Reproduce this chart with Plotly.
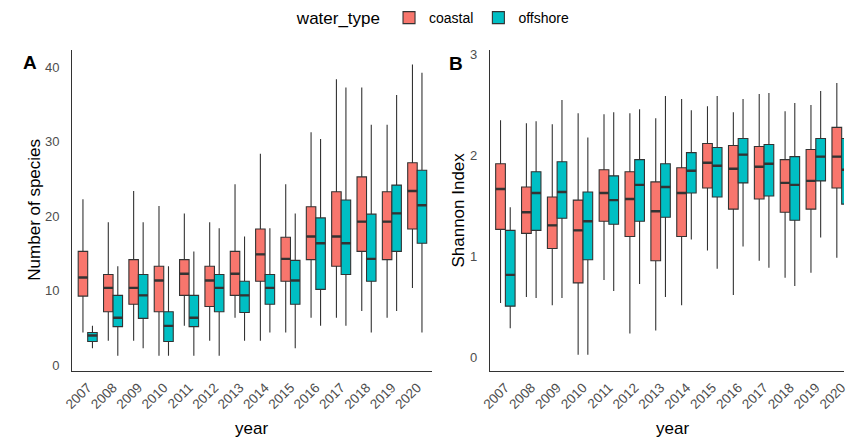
import plotly.graph_objects as go

years = [str(y) for y in range(2007, 2021)]
series = ["coastal", "offshore"]
fills = {"coastal": "#F8766D", "offshore": "#00BFC4"}

# Panel A: number of species per sample (box statistics)
species_low = {
    "coastal": [4.4, 3.3, 3.3, 1.3, 5.3, 3.3, 6.4, 3.3, 4.4, 6.4, 6.4, 7.3, 6.4, 10.4],
    "offshore": [2.3, 1.3, 2.3, 1.3, 1.3, 1.3, 3.3, 4.4, 2.3, 5.3, 5.3, 4.4, 7.3, 4.4],
}
species_q1 = {
    "coastal": [9.3, 7.2, 8.2, 7.2, 9.4, 7.9, 9.4, 11.3, 11.3, 14.2, 13.3, 15.3, 14.2, 18.3],
    "offshore": [3.2, 5.2, 6.3, 3.2, 5.2, 7.2, 7.1, 8.2, 8.2, 10.2, 12.2, 11.3, 15.3, 16.4],
}
species_med = {
    "coastal": [11.8, 10.4, 10.4, 11.4, 12.3, 11.4, 12.3, 14.9, 14.3, 17.3, 17.3, 19.3, 19.3, 23.4],
    "offshore": [4.0, 6.4, 9.4, 5.3, 6.4, 10.4, 9.4, 10.4, 11.4, 16.4, 16.4, 14.3, 20.4, 21.5],
}
species_q3 = {
    "coastal": [15.3, 12.2, 14.2, 13.3, 14.2, 13.3, 15.3, 18.3, 17.2, 21.3, 23.3, 25.3, 23.3, 27.2],
    "offshore": [4.4, 9.4, 12.2, 7.2, 9.4, 12.2, 11.3, 12.2, 14.1, 19.8, 22.2, 20.3, 24.2, 26.2],
}
species_high = {
    "coastal": [22.3, 19.2, 23.4, 21.4, 20.4, 19.2, 24.3, 28.4, 24.3, 31.3, 38.4, 37.3, 32.3, 40.4],
    "offshore": [5.3, 13.3, 19.2, 13.3, 15.3, 18.4, 17.3, 18.4, 20.4, 30.4, 37.3, 32.3, 36.3, 39.3],
}

# Panel B: Shannon diversity index (box statistics)
shannon_low = {
    "coastal": [0.54, 0.60, 0.52, 0.03, 0.77, 0.24, 0.27, 0.52, 1.06, 0.62, 0.96, 0.79, 0.84, 0.99],
    "offshore": [0.29, 0.59, 0.59, 0.03, 0.66, 0.73, 0.60, 1.17, 0.88, 1.10, 0.89, 0.71, 1.19, 1.00],
}
shannon_q1 = {
    "coastal": [1.27, 1.23, 1.08, 0.74, 1.35, 1.20, 0.96, 1.20, 1.68, 1.47, 1.57, 1.44, 1.47, 1.68],
    "offshore": [0.51, 1.26, 1.38, 0.97, 1.32, 1.35, 1.39, 1.63, 1.59, 1.73, 1.60, 1.36, 1.75, 1.52],
}
shannon_med = {
    "coastal": [1.67, 1.44, 1.31, 1.26, 1.63, 1.57, 1.45, 1.63, 1.93, 1.87, 1.89, 1.73, 1.75, 1.99],
    "offshore": [0.82, 1.63, 1.64, 1.35, 1.56, 1.71, 1.69, 1.85, 1.90, 2.01, 1.92, 1.71, 1.99, 1.86],
}
shannon_q3 = {
    "coastal": [1.92, 1.69, 1.59, 1.56, 1.86, 1.84, 1.74, 1.88, 2.12, 2.10, 2.09, 1.96, 2.06, 2.28],
    "offshore": [1.26, 1.84, 1.94, 1.64, 1.80, 1.96, 1.92, 2.03, 2.08, 2.17, 2.11, 1.99, 2.17, 2.17],
}
shannon_high = {
    "coastal": [2.35, 2.32, 2.31, 2.42, 2.41, 2.42, 2.37, 2.56, 2.49, 2.43, 2.61, 2.44, 2.50, 2.72],
    "offshore": [1.49, 2.34, 2.55, 2.18, 2.43, 2.46, 2.59, 2.45, 2.59, 2.56, 2.62, 2.52, 2.64, 2.62],
}

FONT = "Liberation Sans, Arial, sans-serif"
EDGE = "#333333"
DODGE = 0.75
BOX_W = DODGE / len(series)

fig = go.Figure()


def add_panel(xa, ya, low, q1, med, q3, high, legend):
    for k, s in enumerate(series):
        offset = (k - (len(series) - 1) / 2) * BOX_W
        pos = [i + offset for i in range(len(years))]
        fig.add_trace(go.Box(
            x=pos, q1=q1[s], median=med[s], q3=q3[s],
            lowerfence=low[s], upperfence=high[s],
            orientation="v", width=BOX_W, whiskerwidth=0,
            fillcolor=fills[s], line=dict(color=EDGE, width=1.1),
            name=s, legendgroup=s, showlegend=legend,
            xaxis=xa, yaxis=ya, hoverinfo="y",
        ))
        # thicker median bars drawn over each box
        mx, my = [], []
        for p, m in zip(pos, med[s]):
            mx += [p - BOX_W / 2, p + BOX_W / 2, None]
            my += [m, m, None]
        fig.add_trace(go.Scatter(
            x=mx, y=my, mode="lines", line=dict(color=EDGE, width=2.4),
            showlegend=False, hoverinfo="skip", xaxis=xa, yaxis=ya,
        ))


add_panel("x", "y", species_low, species_q1, species_med, species_q3, species_high, True)
add_panel("x2", "y2", shannon_low, shannon_q1, shannon_med, shannon_q3, shannon_high, False)

W, H = 849, 439
y_dom = [(H - 372.7) / H, (H - 48) / H]

xcommon = dict(
    tickmode="array", tickvals=list(range(len(years))), ticktext=years,
    tickangle=-45, tickfont=dict(family=FONT, size=13.5, color="#4D4D4D"),
    showline=True, linecolor=EDGE, linewidth=1.2, showgrid=False,
    zeroline=False, ticks="", ticklabelstandoff=2, ticklabeloverflow="allow",
)
ycommon = dict(
    tickfont=dict(family=FONT, size=13, color="#4D4D4D"),
    showline=True, linecolor=EDGE, linewidth=1.2, showgrid=False,
    zeroline=False, ticks="", ticklabelstandoff=9,
)

fig.update_layout(
    width=W, height=H,
    margin=dict(l=0, r=0, t=0, b=0),
    paper_bgcolor="white", plot_bgcolor="white",
    boxmode="overlay",
    xaxis=dict(domain=[64.3 / W, 430 / W], range=[-0.61, 13.58], anchor="y", **xcommon),
    yaxis=dict(domain=y_dom, range=[-0.8, 42.4], anchor="x",
               tickvals=[0, 10, 20, 30, 40], **ycommon),
    xaxis2=dict(domain=[489 / W, 1.0], range=[-0.597, 13.09], anchor="y2", **xcommon),
    yaxis2=dict(domain=y_dom, range=[-0.135, 3.05], anchor="x2",
                tickvals=[0, 1, 2, 3], **ycommon),
    legend=dict(
        orientation="h", x=0.51, xanchor="center", y=1.0, yanchor="top",
        title=dict(text="water_type", font=dict(family=FONT, size=17, color="black")),
        font=dict(family=FONT, size=14, color="black"),
        itemwidth=30, tracegroupgap=0,
    ),
    showlegend=True,
)

annots = [
    dict(text="<b>A</b>", x=21 / W, y=(H - 61) / H, font=dict(size=19)),
    dict(text="<b>B</b>", x=455 / W, y=(H - 62) / H, font=dict(size=19)),
    dict(text="Number of species", x=25 / W, y=(H - 210) / H, textangle=-90, font=dict(size=17)),
    dict(text="Shannon Index", x=457 / W, y=(H - 210) / H, textangle=-90, font=dict(size=17)),
    dict(text="year", x=247 / W, y=(H - 430) / H, font=dict(size=17)),
    dict(text="year", x=675 / W, y=(H - 430) / H, font=dict(size=17)),
]
for a in annots:
    a["font"].update(family=FONT, color="black")
    fig.add_annotation(xref="paper", yref="paper", xanchor="center", yanchor="middle",
                       showarrow=False, **a)

fig.write_html("out.html")
